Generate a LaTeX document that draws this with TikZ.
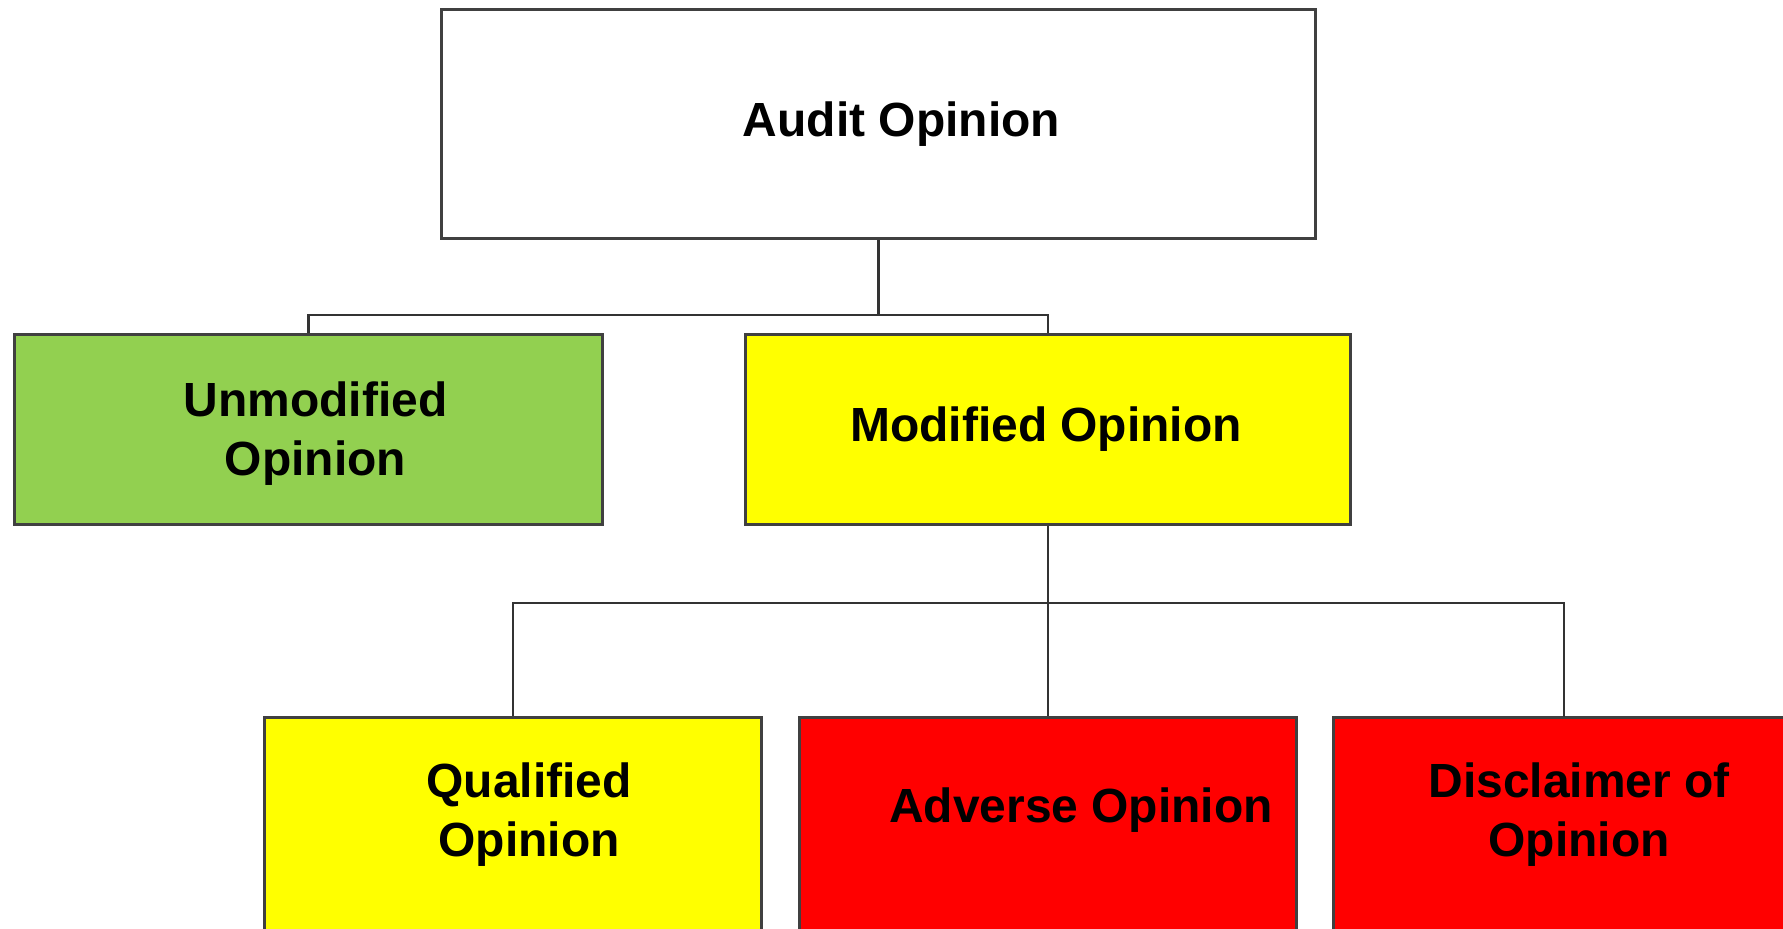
\documentclass[tikz,border=0pt]{standalone}
\usepackage{fontspec}
\setmainfont{Liberation Sans}
\usepackage{tikz}
\definecolor{okgreen}{RGB}{146,208,80}
\definecolor{modyellow}{RGB}{255,255,0}
\definecolor{badred}{RGB}{255,0,0}

\begin{document}
\begin{tikzpicture}[x=0.02cm, y=-0.02cm,
        box/.style={draw=black!75, line width=1.7pt, inner sep=0pt},
        wide box/.style={box, minimum height=3.82cm},
        low box/.style={box, minimum width=9.96cm, minimum height=5.66cm},
        txt/.style={font=\bfseries\fontsize{27.3}{33.5}\selectfont, align=center, inner sep=0pt},
        link/.style={draw=black!80, line width=1.2pt}]
        \useasboundingbox (0,0) rectangle (1783,929);
        \clip (0,0) rectangle (1783,929);

        \node[box, fill=white, minimum width=17.5cm, minimum height=4.6cm] (audit) at (878.5,124) {};
        \node[wide box, fill=okgreen, minimum width=11.78cm] (unmod) at (308.5,429.5) {};
        \node[wide box, fill=modyellow, minimum width=12.12cm] (mod) at (1048,429.5) {};
        \node[low box, fill=modyellow] (qual) at (513,858.5) {};
        \node[low box, fill=badred] (adv) at (1048,858.5) {};
        \node[low box, fill=badred] (discl) at (1582,858.5) {};

        \node[txt] (audit text) at (901.5,124) {Audit Opinion};
        \node[txt] (unmod text) at (315.5,434) {Unmodified\\Opinion};
        \node[txt] (mod text) at (1046,429) {Modified Opinion};
        \node[txt] (qual text) at (529,815) {Qualified\\Opinion};
        \node[txt] (adv text) at (1081,810) {Adverse Opinion};
        \node[txt] (discl text) at (1579,815) {Disclaimer of\\Opinion};

        \coordinate (bus1) at (878.5,315);
        \coordinate (bus2) at (1048,603);
        \coordinate (dtop) at (1564,717);

        \draw[link] (audit.south) -- (bus1);
        \draw[link] (unmod.north) |- (bus1) -| (mod.north);
        \draw[link] (mod.south) -- (bus2);
        \draw[link] (qual.north) |- (bus2) -| (adv.north);
        \draw[link] (bus2) -| (dtop);

    \end{tikzpicture}
\end{document}
